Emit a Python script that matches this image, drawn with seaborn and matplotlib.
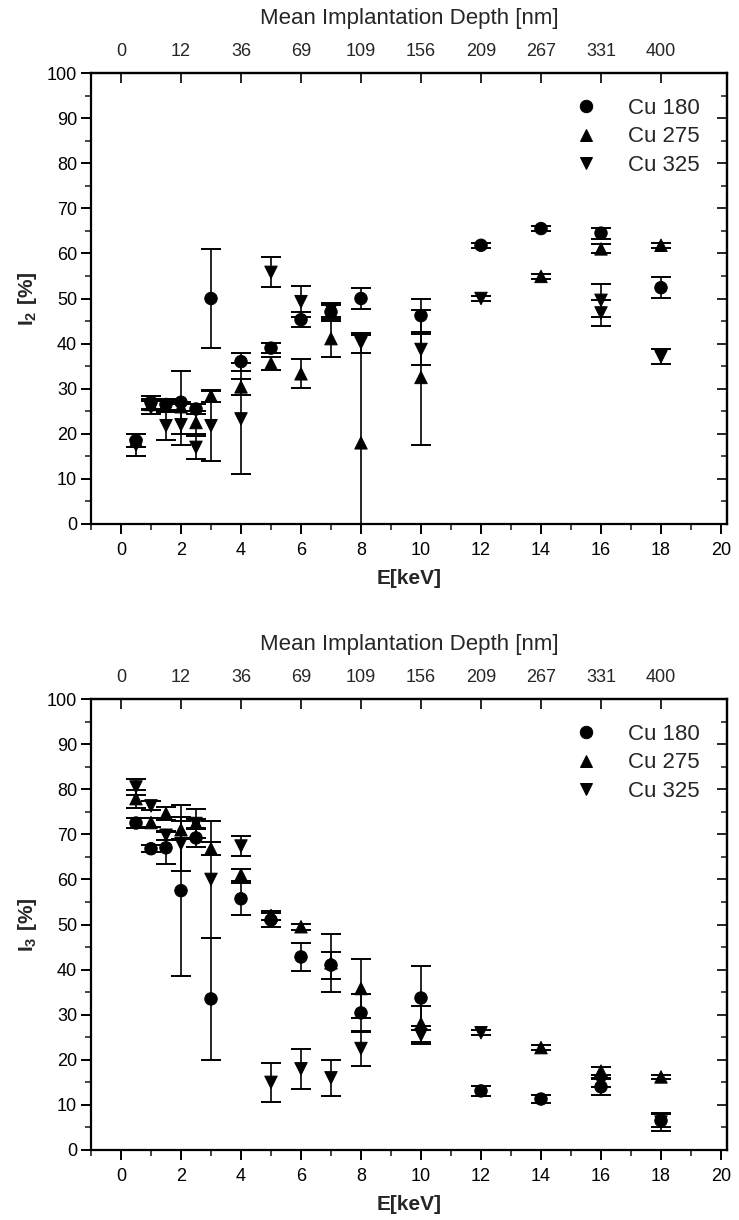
import numpy as np
import pandas as pd
import matplotlib
matplotlib.use("Agg")
import matplotlib.pyplot as plt
import seaborn as sns

# ---------------- data ----------------
series_names = ["Cu 180", "Cu 275", "Cu 325"]
depth_labels = ["0", "12", "36", "69", "109", "156", "209", "267", "331", "400"]
depth_tick_E = [0, 2, 4, 6, 8, 10, 12, 14, 16, 18]

# Panel 1: I2 [%]
E180_top = [0.5, 1, 1.5, 2, 2.5, 3, 4, 5, 6, 7, 8, 10, 12, 14, 16, 18]
I2_180 = [18.5, 27, 26.5, 27, 25.5, 50, 36, 39, 45.3, 47, 50, 46.2, 61.8, 65.5, 64.5, 52.4]
I2_180_err = [1.5, 1.4, 1.2, 7, 1.2, 11, 2, 1.1, 1.7, 1.5, 2.3, 3.6, 0.5, 0.5, 1.2, 2.3]

E275_top = [0.5, 1, 1.5, 2, 2.5, 3, 4, 5, 6, 7, 8, 10, 14, 16, 18]
I2_275 = [18.5, 26.5, 26.2, 26, 22.5, 28.4, 30.4, 35.6, 33.3, 41.1, 18, 32.5, 54.9, 61, 61.8]
I2_275_err = [1.5, 1.2, 1.2, 1, 2.5, 1.3, 1.8, 1.4, 3.2, 4, 24, 15, 0.5, 1, 0.6]

E325_top = [0.5, 1, 1.5, 2, 2.5, 3, 4, 5, 6, 7, 8, 10, 12, 16, 16, 18]
I2_325 = [17.5, 25.8, 21.8, 22, 17, 21.8, 23.3, 55.8, 49.3, 47.5, 40.2, 38.7, 50, 49.6, 46.8, 37.1]
I2_325_err = [2.5, 1.5, 3.1, 4.5, 2.5, 7.8, 12.3, 3.3, 3.4, 1.5, 2.2, 3.5, 0.5, 3.7, 2.8, 1.6]

# Panel 2: I3 [%]
E180_bot = [0.5, 1, 1.5, 2, 2.5, 3, 4, 5, 6, 7, 8, 10, 12, 14, 16, 18]
I3_180 = [72.5, 66.8, 67, 57.5, 69.2, 33.5, 55.7, 51, 42.8, 41, 30.4, 33.7, 13.1, 11.3, 14, 6.5]
I3_180_err = [1.2, 0.8, 3.5, 19, 2, 13.5, 3.5, 1.5, 3, 3, 4.2, 7, 1.1, 0.8, 1.8, 1.5]

E275_bot = [0.5, 1, 1.5, 2, 2.5, 3, 4, 5, 6, 7, 8, 10, 14, 16, 18]
I3_275 = [77.9, 72.6, 74.6, 71, 72.5, 66.8, 61, 52, 49.5, 41.5, 35.8, 28, 22.7, 17.5, 16.2]
I3_275_err = [2, 1, 1.5, 2, 1, 1.5, 1.4, 1, 0.7, 6.5, 6.6, 4, 0.5, 0.8, 0.5]

E325_bot = [0.5, 1, 1.5, 2, 2.5, 3, 4, 5, 6, 7, 8, 10, 12, 16, 18]
I3_325 = [80.5, 76.3, 69.8, 67.9, 72.4, 60, 67.4, 15, 18, 16, 22.5, 25.5, 26, 15, 6.2]
I3_325_err = [1.8, 1, 1, 6, 3.2, 13, 2.2, 4.3, 4.5, 4, 3.9, 2, 0.6, 1, 1.9]

# ---------------- style ----------------
sns.set_theme(style="ticks")
plt.rcParams["font.family"] = ["Liberation Sans", "DejaVu Sans"]
plt.rcParams["mathtext.fontset"] = "custom"
plt.rcParams["mathtext.rm"] = "Liberation Sans"
plt.rcParams["mathtext.bf"] = "Liberation Sans:bold"
plt.rcParams["axes.linewidth"] = 1.6

markers = {"Cu 180": "o", "Cu 275": "^", "Cu 325": "v"}

def make_df(Es, Is, errs):
    frames = []
    for name, E, I, er in zip(series_names, Es, Is, errs):
        frames.append(pd.DataFrame({"E": E, "I": I, "err": er, "series": name}))
    return pd.concat(frames, ignore_index=True)

df_top = make_df([E180_top, E275_top, E325_top], [I2_180, I2_275, I2_325],
                 [I2_180_err, I2_275_err, I2_325_err])
df_bot = make_df([E180_bot, E275_bot, E325_bot], [I3_180, I3_275, I3_325],
                 [I3_180_err, I3_275_err, I3_325_err])

W, H = 739, 1220
fig = plt.figure(figsize=(W / 100, H / 100), dpi=100)

def px_axes(left, right, top, bottom):
    return fig.add_axes([left / W, 1 - bottom / H, (right - left) / W, (bottom - top) / H])

ax1 = px_axes(91, 727, 73, 524)
ax2 = px_axes(91, 727, 699, 1150)

def draw(ax, df, ylab):
    for name in series_names:
        d = df[df["series"] == name]
        ax.errorbar(d["E"], d["I"], yerr=d["err"], fmt="none", ecolor="black",
                    elinewidth=1.2, capsize=7, capthick=1.4, zorder=2)
    sns.scatterplot(data=df, x="E", y="I", style="series", markers=markers,
                    style_order=series_names, color="black", edgecolor="black",
                    s=80, ax=ax, zorder=3, legend=True)
    ax.set_xlim(-1, 20.2)
    ax.set_ylim(0, 100)
    ax.set_xticks(np.arange(0, 21, 2))
    ax.set_xticks(np.arange(-1, 20.5, 1), minor=True)
    ax.set_yticks(np.arange(0, 101, 10))
    ax.set_yticks(np.arange(0, 101, 5), minor=True)
    ax.tick_params(axis="both", which="major", direction="out", length=7, width=1.4,
                   labelsize=13, colors="black")
    ax.tick_params(axis="x", which="major", pad=6)
    ax.tick_params(axis="y", which="major", pad=3)
    ax.tick_params(axis="both", which="minor", direction="out", length=4, width=1.2)
    ax.set_xlabel("E[keV]", fontsize=15, fontweight="bold", labelpad=7)
    ax.set_ylabel(ylab, fontsize=15, labelpad=6)
    for sp in ax.spines.values():
        sp.set_visible(True)
        sp.set_color("black")
    # right axis: inward ticks, no labels
    sec_r = ax.secondary_yaxis("right")
    sec_r.set_yticks(np.arange(0, 101, 10))
    sec_r.set_yticks(np.arange(0, 101, 5), minor=True)
    sec_r.tick_params(which="major", direction="in", length=7, width=1.4, labelright=False)
    sec_r.tick_params(which="minor", direction="in", length=4, width=1.2)
    # top axis: implantation depth
    sec_t = ax.secondary_xaxis("top")
    sec_t.set_xticks(depth_tick_E)
    sec_t.set_xticklabels(depth_labels)
    sec_t.tick_params(which="major", direction="in", length=7, width=1.4,
                      labelsize=13, pad=9)
    sec_t.set_xlabel("Mean Implantation Depth [nm]", fontsize=16, labelpad=14)
    leg = ax.legend(loc="upper right", frameon=False, fontsize=16, handletextpad=0.9,
                    labelspacing=0.35, borderaxespad=0.4, markerscale=1.0,
                    bbox_to_anchor=(0.985, 0.985))
    leg.set_title(None)

draw(ax1, df_top, r"$\mathbf{I_2\ [\%]}$")
draw(ax2, df_bot, r"$\mathbf{I_3\ [\%]}$")

fig.savefig("out.png", dpi=100, facecolor="white")
